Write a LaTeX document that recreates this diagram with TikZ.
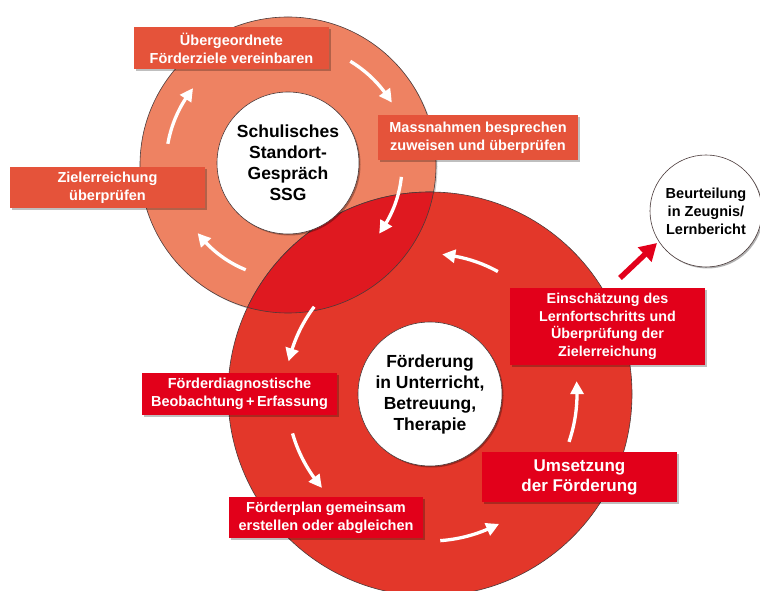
\documentclass[tikz,border=0pt]{standalone}
\usepackage{fontspec}
\setmainfont{Liberation Sans}
\usetikzlibrary{arrows.meta,calc,shadows,bending}
\definecolor{salmon}{HTML}{EE8262}
\definecolor{bigred}{HTML}{E3372A}
\definecolor{lensred}{HTML}{DF1920}
\definecolor{boxorange}{HTML}{E5533A}
\definecolor{boxred}{HTML}{E2001A}
\definecolor{outl}{HTML}{4A3A3A}
\tikzset{
  boxbase/.style={rectangle, inner sep=0pt, text=white, align=center,
    font=\fontsize{14.5}{18}\selectfont\bfseries,
    drop shadow={shadow xshift=2pt, shadow yshift=-2pt, fill=black, opacity=0.25}},
  obox/.style={boxbase, fill=boxorange},
  rbox/.style={boxbase, fill=boxred},
  whitecirc/.style={circle, fill=white, draw=outl, line width=0.6pt, inner sep=0pt,
    align=center, text=black,
    drop shadow={shadow xshift=1.5pt, shadow yshift=-1.5pt, fill=black, opacity=0.3}},
  warrow/.style={draw=white, line width=3.3pt, -{Triangle[length=13pt,width=13pt,bend]}},
  rarrow/.style={draw=boxred, line width=5.5pt, -{Triangle[length=17pt,width=19pt]}}
}
\begin{document}
\begin{tikzpicture}[x=1pt,y=1pt]
\useasboundingbox (0,0) rectangle (760,591);
% centres
\coordinate (c1) at (288,426);
\coordinate (c2) at (430,197);
% rings
\node[circle, minimum size=296pt, inner sep=0pt, fill=salmon, draw=outl, line width=0.6pt,
  drop shadow={shadow xshift=1.5pt, shadow yshift=-1.5pt, fill=black, opacity=0.18}] (ring1) at (c1) {};
\node[circle, minimum size=404pt, inner sep=0pt, fill=bigred, draw=outl, line width=0.6pt] (ring2) at (c2) {};
\begin{scope}
  \clip (c1) circle[radius=148pt];
  \fill[lensred] (c2) circle[radius=202pt];
  \draw[outl, line width=0.6pt] (c2) circle[radius=202pt];
\end{scope}
\begin{scope}
  \clip (c2) circle[radius=202pt];
  \draw[outl, line width=0.6pt] (c1) circle[radius=148pt];
\end{scope}
% inner circles
\node[whitecirc, minimum size=142pt, font=\fontsize{17.5}{21}\selectfont\bfseries] (ssg) at (288,428)
  {Schulisches\\Standort-\\Gespräch\\SSG};
\node[whitecirc, minimum size=144pt, font=\fontsize{17.5}{21}\selectfont\bfseries] (foerd) at (c2)
  {Förderung\\in Unterricht,\\Betreuung,\\Therapie};
% white arrows, upper ring
\draw[warrow] ($(c1)+(59:121pt)$) arc[start angle=59, end angle=31, radius=121pt];
\draw[warrow] ($(c1)+(-6:114pt)$) arc[start angle=-6, end angle=-37, radius=114pt];
\draw[warrow] ($(c1)+(248:113pt)$) arc[start angle=248, end angle=217, radius=113pt];
\draw[warrow] ($(c1)+(170:122pt)$) arc[start angle=170, end angle=141, radius=122pt];
% white arrows, lower ring
\draw[warrow] ($(c2)+(143:145pt)$) arc[start angle=143, end angle=167, radius=145pt];
\draw[warrow] ($(c2)+(196:143pt)$) arc[start angle=196, end angle=221, radius=143pt];
\draw[warrow] ($(c2)+(274:147pt)$) arc[start angle=274, end angle=298, radius=147pt];
\draw[warrow] ($(c2)+(-19:147pt)$) arc[start angle=-19, end angle=5, radius=147pt];
\draw[warrow] ($(c2)+(61:140pt)$) arc[start angle=61, end angle=85, radius=140pt];
% boxes
\node[obox, minimum width=195pt, minimum height=42pt] (b1) at (231.5,543)
  {Übergeordnete\\Förderziele vereinbaren};
\node[obox, minimum width=200pt, minimum height=45pt] (b2) at (478,453.5)
  {Massnahmen besprechen\\zuweisen und überprüfen};
\node[obox, minimum width=195pt, minimum height=41pt] (b3) at (107.5,403.5)
  {Zielerreichung\\überprüfen};
\node[rbox, minimum width=195pt, minimum height=77pt, font=\fontsize{14.3}{17.5}\selectfont\bfseries] (b4) at (607.5,264.5)
  {Einschätzung des\\Lernfortschritts und\\Überprüfung der\\Zielerreichung};
\node[rbox, minimum width=195pt, minimum height=50pt, font=\fontsize{17}{20}\selectfont\bfseries] (b5) at (579.5,114)
  {Umsetzung\\der Förderung};
\node[rbox, minimum width=195pt, minimum height=42pt] (b6) at (239.5,197)
  {Förderdiagnostische\\Beobachtung\,+\,Erfassung};
\node[rbox, minimum width=194pt, minimum height=41pt] (b7) at (326,73.5)
  {Förderplan gemeinsam\\erstellen oder abgleichen};
% assessment circle
\node[whitecirc, minimum size=112pt, font=\fontsize{14.5}{18}\selectfont\bfseries] (beurt) at (706,380)
  {Beurteilung\\in Zeugnis/\\Lernbericht};
\coordinate (rs) at (620,313);
\coordinate (re) at (657,348);
\draw[rarrow] (rs) -- (re);
\end{tikzpicture}
\end{document}
